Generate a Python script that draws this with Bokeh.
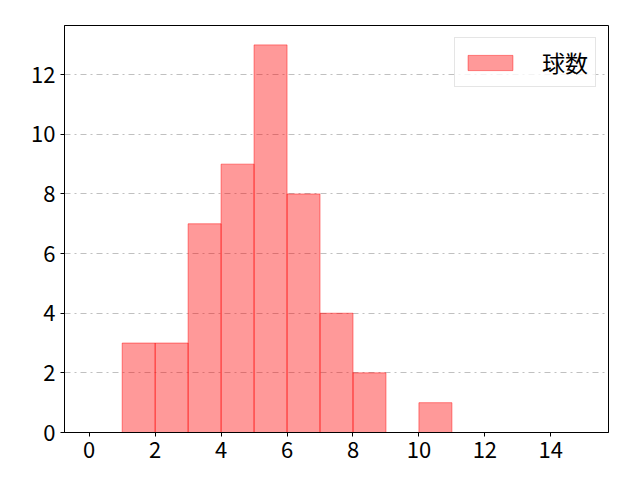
from bokeh.plotting import figure
from bokeh.models import Range1d, FixedTicker, Legend, LegendItem
from bokeh.embed import file_html
from bokeh.resources import INLINE

bin_left = [1, 2, 3, 4, 5, 6, 7, 8, 9, 10]
bin_right = [2, 3, 4, 5, 6, 7, 8, 9, 10, 11]
counts = [3, 3, 7, 9, 13, 8, 4, 2, 0, 1]
series_name = "球数"
x_ticks = [0, 2, 4, 6, 8, 10, 12, 14]
y_ticks = [0, 2, 4, 6, 8, 10, 12]

FONT = "Noto Sans CJK JP"

p = figure(width=640, height=480, output_backend="svg", toolbar_location=None,
           x_range=Range1d(-0.75, 15.75), y_range=Range1d(0, 13.65),
           min_border_left=64, min_border_right=32, min_border_top=25, min_border_bottom=48)

r = p.quad(left=bin_left, right=bin_right, top=counts, bottom=0,
           fill_color="#ff0000", fill_alpha=0.4, line_color="#ff0000", line_alpha=0.45, line_width=1)

p.outline_line_color = "black"
p.outline_line_width = 1
p.xgrid.visible = False
p.ygrid.grid_line_color = "#b0b0b0"
p.ygrid.grid_line_dash = "dashdot"
p.ygrid.grid_line_width = 0.8
p.ygrid.ticker = FixedTicker(ticks=y_ticks)

for ax, ticks in ((p.xaxis[0], x_ticks), (p.yaxis[0], y_ticks)):
    ax.ticker = FixedTicker(ticks=ticks)
    ax.major_label_text_font = FONT
    ax.major_label_text_font_size = "22px"
    ax.major_label_text_color = "black"
    ax.axis_line_color = "black"
    ax.major_tick_line_color = "black"
    ax.major_tick_in = 0
    ax.major_tick_out = 4
    ax.minor_tick_line_color = None
    ax.major_label_standoff = 5

legend = Legend(items=[LegendItem(label=series_name, renderers=[r])],
                location="top_right", margin=12)
legend.label_text_font = FONT
legend.label_text_font_size = "23px"
legend.label_text_color = "black"
legend.label_height = 19
legend.glyph_width = 56
legend.glyph_height = 19
legend.label_standoff = 24
legend.padding = 7
legend.border_line_color = "#cccccc"
legend.background_fill_alpha = 0.8
p.add_layout(legend)

open("out.html", "w").write(file_html(p, INLINE))
